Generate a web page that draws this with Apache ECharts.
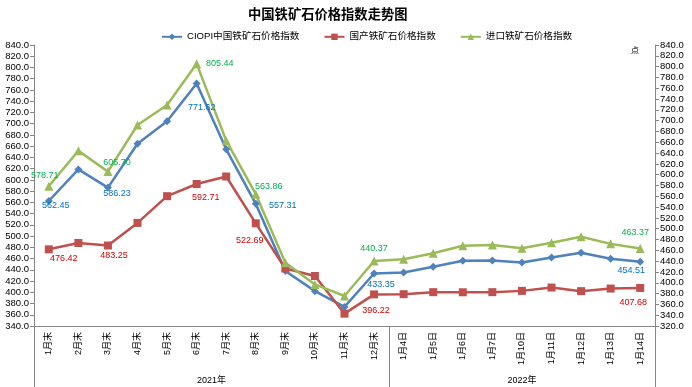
<!DOCTYPE html>
<html>
<head>
<meta charset="utf-8">
<script src="https://cdn.jsdelivr.net/npm/echarts@6/dist/echarts.min.js"></script>
<style>html,body{margin:0;padding:0;background:#fff}#c{width:692px;height:387px}</style>
</head>
<body>
<div id="c"></div>
<script>
const categories = ['1月末','2月末','3月末','4月末','5月末','6月末','7月末','8月末','9月末','10月末','11月末','12月末',
  '1月4日','1月5日','1月6日','1月7日','1月10日','1月11日','1月12日','1月13日','1月14日'];
const groupLabels = ['2021年','2022年'];
const groupSizes = [12, 9];
const ciopi = [562.45, 618.6, 586.23, 664.4, 704.3, 771.62, 654.3, 557.31, 438, 402, 374, 433.35,
  435.2, 445.4, 456, 456.6, 453, 462, 470.4, 459.6, 454.51];
const domestic = [476.42, 487.7, 483.25, 523.4, 571, 592.71, 606, 522.69, 442.4, 429, 362, 396.22,
  396.6, 400.2, 400, 400.2, 402.5, 408.4, 402, 406.6, 407.68];
const imported = [578.71, 644.4, 605.70, 692, 729, 805.44, 663, 563.86, 437, 397, 375.5, 440.37,
  443.4, 454.5, 468.6, 470, 463.7, 474, 485, 472, 463.37];
const seriesNames = ['CIOPI中国铁矿石价格指数','国产铁矿石价格指数','进口铁矿石价格指数'];

const FONT = "'Liberation Sans','Noto Sans CJK SC',sans-serif";
// label offsets (style) for the points that carry a value label
const labelOffsets = [
  {0:[7,5], 2:[9,6], 5:[5,24], 7:[27,2], 11:[7,11], 20:[-9,9]},
  {0:[15,9], 2:[6,10], 5:[9,14], 7:[-6,17], 11:[2,16], 20:[-7,15]},
  {0:[-4,-11], 2:[9,-9], 5:[23,0], 7:[13,-8], 11:[0,-12], 20:[-5,-16]}
];
const labelColors = ['#0070C0','#D00000','#00B050'];
function items(vals, si){
  return vals.map((v,i)=>{
    const off = labelOffsets[si][i];
    if(!off) return v;
    return {value:v, label:{show:true, position:'inside', offset:off, color:labelColors[si],
      fontSize:9, fontFamily:FONT, formatter:()=>v.toFixed(2)}};
  });
}
// second-level (group) axis built on half-steps
const total = groupSizes.reduce((a,b)=>a+b,0);
const halfCats = new Array(total*2+1).fill('');
const boundaries = [0];
let start = 0;
groupSizes.forEach((s,g)=>{ halfCats[2*start+s] = groupLabels[g]; start += s; boundaries.push(2*start); });

const axisColor = '#868686';
const chart = echarts.init(document.getElementById('c'));
chart.setOption({
  animation:false,
  backgroundColor:'#fff',
  title:{text:'中国铁矿石价格指数走势图', left:243, top:4,
    textStyle:{fontSize:13.3, fontWeight:'bold', color:'#000', fontFamily:FONT}},
  legend:{left:156, top:27, itemWidth:20, itemHeight:8, itemGap:24,
    textStyle:{fontSize:9.6, color:'#000', fontFamily:FONT}},
  grid:{left:34, right:37, top:45, bottom:61, containLabel:false},
  xAxis:[
    {type:'category', data:categories, position:'bottom', offset:0,
      axisLine:{lineStyle:{color:axisColor}},
      axisTick:{interval:0, length:31, lineStyle:{color:axisColor}},
      axisLabel:{interval:0, rotate:90, margin:6, fontSize:9, color:'#000', fontFamily:FONT}},
    {type:'category', data:halfCats, position:'bottom', offset:0, boundaryGap:false,
      axisLine:{show:false},
      axisTick:{show:true, length:61, interval:(i)=>boundaries.includes(i), lineStyle:{color:axisColor}},
      axisLabel:{interval:(i,v)=>v!=='', margin:50, fontSize:9, color:'#000', fontFamily:FONT}}
  ],
  yAxis:[
    {type:'value', position:'left', min:340, max:840, interval:20,
      axisLine:{show:true, lineStyle:{color:axisColor}},
      axisTick:{show:true, length:4, lineStyle:{color:axisColor}},
      splitLine:{show:false},
      axisLabel:{margin:5, fontSize:9.5, color:'#000', fontFamily:FONT, formatter:v=>v.toFixed(1)}},
    {type:'value', position:'right', min:320, max:840, interval:20,
      name:'点', nameLocation:'end', nameGap:-10,
      nameTextStyle:{fontSize:8, color:'#000', fontFamily:FONT, align:'right', padding:[0,16,0,0]},
      axisLine:{show:true, lineStyle:{color:axisColor}},
      axisTick:{show:true, length:4, lineStyle:{color:axisColor}},
      splitLine:{show:false},
      axisLabel:{margin:5, fontSize:9.5, color:'#000', fontFamily:FONT, formatter:v=>v.toFixed(1)}}
  ],
  series:[
    {name:seriesNames[0], type:'line', yAxisIndex:0, xAxisIndex:0, data:items(ciopi,0),
      symbol:'diamond', symbolSize:8, color:'#4F81BD', lineStyle:{width:2.5, color:'#4F81BD'},
      itemStyle:{color:'#4F81BD'}},
    {name:seriesNames[1], type:'line', yAxisIndex:0, xAxisIndex:0, data:items(domestic,1),
      symbol:'rect', symbolSize:8, color:'#C0504D', lineStyle:{width:2.5, color:'#C0504D'},
      itemStyle:{color:'#C0504D'}},
    {name:seriesNames[2], type:'line', yAxisIndex:1, xAxisIndex:0, data:items(imported,2),
      symbol:'triangle', symbolSize:9, color:'#9BBB59', lineStyle:{width:2.5, color:'#9BBB59'},
      itemStyle:{color:'#9BBB59'}}
  ]
});
</script>
</body>
</html>
